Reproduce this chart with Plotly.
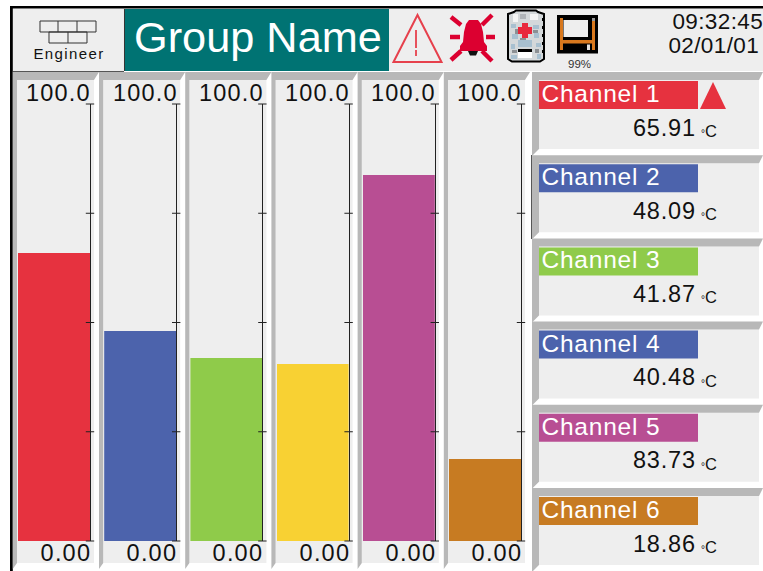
import plotly.graph_objects as go

W, H = 763, 571

# ---- data ----
channels = ["Channel 1", "Channel 2", "Channel 3", "Channel 4", "Channel 5", "Channel 6"]
values = [65.91, 48.09, 41.87, 40.48, 83.73, 18.86]
bar_colors = ["#E6323F", "#4C63AC", "#8FCB4A", "#F8D133", "#B84E93", "#C77B22"]
chip_colors = ["#E6323F", "#4C63AC", "#8FCB4A", "#4C63AC", "#B84E93", "#C77B22"]
scale_ticks = [0, 25, 50, 75, 100]
scale_top = "100.0"
scale_bottom = "0.00"
unit_mark = "°"
unit_letter = "C"
group_name = "Group Name"
user = "Engineer"
clock_time = "09:32:45"
clock_date = "02/01/01"
disk_used = "99%"

PANEL = "#EEEEEE"
BEVEL = "#B8B8B8"
TEAL = "#007373"
INK = "#111111"
RED = "#E6323F"
BELL = "#DC0030"
AXIS = "#222222"


def X(x):
    return x / W


def Y(y):
    return 1 - y / H


def poly(points, close=True):
    s = "M " + " L ".join(f"{X(a):.5f},{Y(b):.5f}" for a, b in points)
    return s + (" Z" if close else "")


shapes = []


def add_poly(points, fill=None, line=None, lw=1, close=True):
    shapes.append(dict(type="path", xref="paper", yref="paper", layer="below",
                       path=poly(points, close),
                       fillcolor=fill if fill else "rgba(0,0,0,0)",
                       line=dict(color=line if line else "rgba(0,0,0,0)", width=lw if line else 0)))


def box(x0, y0, x1, y1, fill=None, line=None, lw=1):
    add_poly([(x0, y0), (x1, y0), (x1, y1), (x0, y1)], fill, line, lw)


def seg(x0, y0, x1, y1, color, lw=1):
    add_poly([(x0, y0), (x1, y1)], None, color, lw, close=False)


# ---- frame and header ----
box(13, 9, 124, 71, PANEL)
seg(13, 71.5, 124, 71.5, "#555555", 1)
seg(124.5, 9, 124.5, 71, "#333333", 1)
box(125, 9, 389, 71, TEAL)
box(389, 9, W, 71, PANEL)
box(10, 6, W, 8.6, "#000000")
box(10, 6, 12.8, H, "#000000")

# user icon (bricks)
box(40, 21, 96, 32, None, "#333333", 1)
seg(58, 21, 58, 32, "#333333")
seg(77, 21, 77, 32, "#333333")
box(49, 32, 87, 43, None, "#333333", 1)
seg(68, 32, 68, 43, "#333333")

# warning triangle
add_poly([(417.5, 15), (393.5, 62), (441.5, 62)], None, "#E6404C", 2)
seg(416, 30, 416, 48, "#E6404C", 1.8)
seg(416, 50, 416, 56, "#E6404C", 1.8)

# alarm bell with rays
add_poly([(469, 20), (478, 20), (481, 24), (483, 32), (484, 42), (487, 46), (487, 51),
          (460, 51), (460, 46), (463, 42), (464, 32), (466, 24)], BELL)
add_poly([(468, 51), (478, 51), (476, 55.5), (470, 55.5)], "#111111")
for a, b, c, d in [(450, 37, 460, 37), (486, 37, 495, 37), (451, 17, 461, 25), (492, 15, 482, 25),
                   (451, 60, 461, 51), (492, 61, 482, 51)]:
    seg(a, b, c, d, BELL, 4.5)

# battery / clipboard icon
add_poly([(514, 12), (516, 10.5), (536, 10.5), (538, 12), (544, 14), (544, 59), (540, 61.5), (512, 61.5),
          (508, 59), (508, 14)], "#D4D8DA", "#000000", 2)
box(513, 14, 518, 22, "#F4F4F4")
box(530, 14, 538, 20, "#F4F4F4")
box(520, 14, 526, 19, "#B0B4B8")
for a, b, w, h in [(511, 24, 5, 4), (533, 25, 6, 4), (512, 34, 6, 5), (534, 33, 5, 5), (518, 40, 14, 7),
                   (511, 44, 4, 5), (536, 43, 5, 4), (511, 55, 6, 4), (537, 54, 4, 5)]:
    box(a, b, a + w, b + h, "#A8C0D0")
for a, b, w, h in [(515, 29, 3, 5), (533, 30, 5, 3), (512, 50, 5, 3), (535, 49, 4, 4), (520, 38, 6, 2)]:
    box(a, b, a + w, b + h, "#8C9094")
box(522, 23, 528, 38, "#E8283C")
box(518, 27, 532, 34, "#E8283C")
box(518, 49, 532, 52, "#000000")
box(518, 52, 532, 58, "#FFFFFF")
for i in range(5):
    box(542, 18 + 8 * i, 544, 21 + 8 * i, "#000000")

# floppy disk icon
box(557, 15, 598, 53.5, "#000000")
box(560, 18, 563, 50, "#D8781E")
box(592, 18, 595, 50, "#D8781E")
box(560, 40, 595, 43.5, "#D8781E")
box(592, 18, 595, 21, "#999999")
box(563.5, 20, 588, 37, "#EEEEEE")
box(587, 44.5, 590, 50, "#E0E0E0")

# ---- bar panels ----
PITCH = 86.2
for i in range(6):
    dx = PITCH * i
    add_poly([(17 + dx, 80), (94 + dx, 80), (94 + dx, 563), (17 + dx, 563)], PANEL)
    add_poly([(12.8 + dx, 72), (99 + dx, 72), (94 + dx, 80), (17 + dx, 80), (17 + dx, 563), (12.8 + dx, 569)], BEVEL)

# ---- channel tiles ----
TILE = 83.2
for i, c in enumerate(channels):
    dy = TILE * i
    add_poly([(539, 80 + dy), (759, 80 + dy), (759, 149 + dy), (539, 149 + dy)], PANEL)
    add_poly([(532, 72 + dy), (W, 72 + dy), (759, 80 + dy), (539, 80 + dy), (539, 149 + dy), (532, 156 + dy)], BEVEL)
    box(539, 81 + dy, 698, 109 + dy, chip_colors[i])
seg(531.5, 155, 531.5, 239, "#555555", 1)
add_poly([(713, 82), (700, 109), (726, 109)], RED)

# ---- text ----
FONT = "Liberation Sans"
ann = []


def text(x, y, s, size, color=INK):
    ann.append(dict(x=X(x), y=Y(y), xref="paper", yref="paper", text=s, showarrow=False,
                    xanchor="center", yanchor="middle", align="center",
                    font=dict(family=FONT, size=size, color=color)))


text(69, 54, user, 15)
text(257.8, 37, group_name, 43.3, "#FFFFFF")
text(717.5, 21.7, clock_time, 22.5)
text(714.2, 45.3, clock_date, 22.5)
text(579, 64, disk_used, 11.5, "#333333")

for i in range(6):
    dx = PITCH * i
    text(58.8 + dx, 93.4, scale_top, 23.5)
    text(66 + dx, 553.4, scale_bottom, 23.5)

for i, c in enumerate(channels):
    dy = TILE * i
    text(601, 93.6 + dy, c, 24.5, "#FFFFFF")
    text(664.3, 127.6 + dy, f"{values[i]:.2f}", 23.5)
    text(708.5, 131 + dy, f"<span style='font-size:10px'>{unit_mark}</span>{unit_letter}", 16.5)

# ---- bars on their own axes ----
fig = go.Figure()
layout = {}
for i, (c, v, col) in enumerate(zip(channels, values, bar_colors)):
    n = "" if i == 0 else str(i + 1)
    xa, ya = f"x{n}", f"y{n}"
    left = (18 + PITCH * i) / W
    right = (90 + PITCH * i) / W
    fig.add_trace(go.Bar(x=[0], y=[v], xaxis=xa, yaxis=ya, width=[1],
                         marker=dict(color=col, line=dict(width=0)), showlegend=False, name=c))
    fig.add_trace(go.Scatter(x=[0.5] * len(scale_ticks), y=scale_ticks, xaxis=xa, yaxis=ya, mode="markers",
                             cliponaxis=False, hoverinfo="skip", showlegend=False,
                             marker=dict(symbol="line-ew", size=6, color=AXIS, line=dict(color=AXIS, width=1))))
    layout[f"xaxis{n}"] = dict(domain=[left, right], anchor=ya, visible=False, range=[-0.5, 0.5], fixedrange=True)
    layout[f"yaxis{n}"] = dict(domain=[1 - 541 / H, 1 - 104 / H], anchor=xa, range=[0, 100], side="right",
                               showline=True, linecolor=AXIS, linewidth=1, showgrid=False, zeroline=False,
                               ticks="", showticklabels=False, fixedrange=True)

fig.update_layout(**layout)
fig.update_layout(width=W, height=H, margin=dict(l=0, r=0, t=0, b=0, pad=0), autosize=False,
                  paper_bgcolor="#FFFFFF", plot_bgcolor="rgba(0,0,0,0)", showlegend=False,
                  bargap=0, shapes=shapes, annotations=ann)

post = """
document.body.style.margin='0';
document.body.style.overflow='hidden';
var sp=[[/^Channel/,0.8],[/^Engineer/,1.4],[/^100/,1.2],[/^0\\.00/,1.2],[/^\\d\\d\\.\\d\\d$/,0.8],[/^\\d\\d[:\\/]/,0.4]];
document.querySelectorAll('.annotation-text').forEach(function(t){
  sp.forEach(function(p){ if(p[0].test(t.textContent)){ t.style.letterSpacing=p[1]+'px'; } });
});
"""
fig.write_html("out.html", config=dict(displayModeBar=False), post_script=post)
